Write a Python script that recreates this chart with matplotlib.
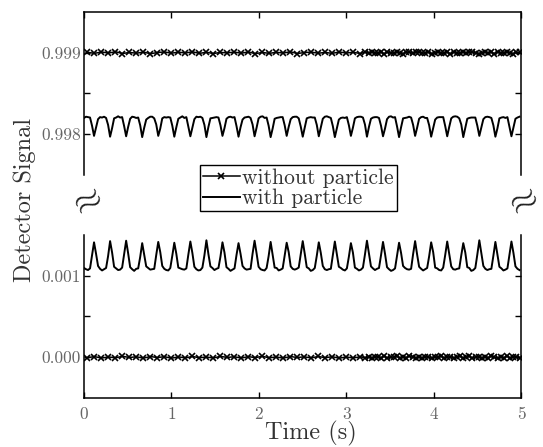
import matplotlib.pyplot as plt
import numpy as np

plt.rcParams['font.family'] = 'cmr10'
plt.rcParams['mathtext.fontset'] = 'cm'
plt.rcParams['axes.formatter.use_mathtext'] = True

# --- data (signal values in units of 1e-6) ---
# "with particle" traces, sampled every 0.02296 s (8 samples per modulation period)
dt_with = 0.02296
with_low = [
    1095, 1080, 1070, 1090, 1250, 1410, 1270, 1120,
    1085, 1065, 1080, 1095, 1240, 1425, 1285, 1110,
    1090, 1070, 1075, 1100, 1265, 1430, 1275, 1105,
    1080, 1060, 1085, 1090, 1230, 1400, 1260, 1115,
    1095, 1075, 1080, 1085, 1255, 1415, 1290, 1120,
    1085, 1070, 1065, 1095, 1245, 1405, 1270, 1100,
    1090, 1080, 1075, 1090, 1260, 1420, 1280, 1110,
    1080, 1065, 1070, 1100, 1250, 1435, 1265, 1115,
    1095, 1070, 1085, 1095, 1235, 1410, 1285, 1105,
    1085, 1060, 1075, 1090, 1255, 1400, 1270, 1120,
    1090, 1075, 1080, 1085, 1270, 1430, 1275, 1110,
    1080, 1070, 1065, 1095, 1240, 1415, 1260, 1100,
    1095, 1065, 1075, 1090, 1250, 1405, 1290, 1115,
    1085, 1075, 1085, 1100, 1265, 1425, 1270, 1105,
    1090, 1060, 1070, 1095, 1245, 1410, 1280, 1120,
    1080, 1070, 1080, 1085, 1255, 1420, 1265, 1110,
    1095, 1075, 1065, 1090, 1235, 1400, 1285, 1100,
    1085, 1065, 1075, 1100, 1260, 1430, 1275, 1115,
    1090, 1070, 1085, 1095, 1250, 1415, 1270, 1105,
    1080, 1060, 1070, 1090, 1245, 1405, 1280, 1120,
    1095, 1080, 1075, 1085, 1265, 1425, 1260, 1110,
    1085, 1065, 1080, 1095, 1240, 1410, 1290, 1100,
    1090, 1070, 1065, 1100, 1255, 1420, 1270, 1115,
    1080, 1075, 1085, 1090, 1250, 1400, 1285, 1105,
    1095, 1060, 1070, 1095, 1260, 1435, 1275, 1120,
    1085, 1070, 1080, 1085, 1245, 1415, 1265, 1110,
    1090, 1065, 1075, 1090, 1255, 1420, 1280, 1115,
    1085, 1070,
]
# offset from 0.998
with_high = [
    200, 215, 210, 205, 105, -20, 85, 185,
    210, 205, 215, 200, 115, -30, 75, 195,
    205, 220, 205, 210, 100, -25, 90, 190,
    215, 210, 200, 205, 110, -35, 80, 180,
    200, 215, 215, 195, 120, -20, 70, 195,
    210, 205, 210, 205, 105, -30, 85, 190,
    205, 220, 200, 210, 95, -25, 80, 185,
    215, 210, 215, 200, 115, -35, 90, 195,
    200, 205, 210, 205, 110, -20, 75, 190,
    210, 215, 205, 210, 100, -30, 85, 180,
    205, 210, 215, 200, 120, -25, 80, 195,
    215, 220, 200, 205, 105, -35, 70, 190,
    200, 205, 210, 210, 110, -20, 90, 185,
    210, 215, 215, 195, 95, -30, 80, 195,
    205, 210, 205, 205, 115, -25, 85, 190,
    215, 220, 210, 200, 100, -35, 75, 180,
    200, 205, 200, 210, 110, -20, 80, 195,
    210, 215, 215, 205, 120, -30, 90, 190,
    205, 210, 210, 200, 105, -25, 70, 185,
    215, 220, 205, 210, 95, -35, 85, 195,
    200, 205, 215, 205, 115, -20, 80, 190,
    210, 215, 200, 200, 110, -30, 75, 180,
    205, 210, 210, 210, 100, -25, 90, 195,
    215, 220, 215, 195, 120, -35, 80, 190,
    200, 205, 205, 205, 105, -20, 85, 185,
    210, 215, 210, 200, 110, -30, 70, 195,
    205, 210, 200, 210, 95, -25, 80, 190,
    205, 215,
]

# "without particle" traces: sparse samples up to ~3.2 s, denser afterwards
t_without = np.concatenate([0.04 + 0.08 * np.arange(40), 3.22 + 0.036 * np.arange(50)])
# offset from 0.999
without_high = [
    6, -8, 10, -4, 12, -10, 4, -6, 8, -12, 2, 10, -6, 8, -4, 12, -8, 6, -10, 4,
    -2, 8, -6, 10, -12, 4, -8, 6, -4, 12, -10, 2, 8, -6, 4, -8, 10, -4, 6, -10,
    8, -3, 11, 2, -9, 5, -12, 7, 1, -6, 10, -2, -11, 4, 9, -7, 3, 12, -5, -1,
    6, -10, 2, 11, -8, -3, 7, -12, 5, 0, -9, 10, -4, 3, 12, -6, -11, 1, 8, -2,
    5, -10, 9, -7, 2, 11, -5, -12, 6, 3,
]
without_low = [
    -5, 8, -10, 4, -7, 12, -3, 6, -11, 9, -4, 7, -12, 5, -8, 10, -6, 3, -9, 11,
    -2, 6, -10, 8, -5, 12, -7, 4, -11, 9, -3, 5, -8, 10, -6, 7, -12, 4, -9, 6,
    -7, 4, -12, 9, 1, -5, 11, -9, 3, -2, 10, -11, 6, -4, 12, 0, -8, 5, -10, 7,
    2, -12, 9, -3, 11, -6, -1, 8, -10, 4, 12, -7, -3, 10, -9, 1, 6, -12, 8, -4,
    11, -2, -9, 5, -6, 12, -11, 3, 7, -5,
]

t_with = dt_with * np.arange(len(with_low))
y_with_low = 1e-6 * np.array(with_low)
y_with_high = 0.998 + 1e-6 * np.array(with_high)
y_without_low = 1e-6 * np.array(without_low)
y_without_high = 0.999 + 1e-6 * np.array(without_high)

tick_color = '#666666'
label_color = '#333333'

fig = plt.figure(figsize=(5.43, 4.47), dpi=100)
ax_top = fig.add_axes([0.1547, 0.6085, 0.8048, 0.3647])
ax_bot = fig.add_axes([0.1547, 0.1096, 0.8048, 0.3647])

line_kw = dict(color='black', linewidth=1.4)
mark_kw = dict(color='black', linewidth=1.1, marker='x', markersize=4.5, markeredgewidth=1.2)

h1, = ax_top.plot(t_without, y_without_high, **mark_kw)
h2, = ax_top.plot(t_with, y_with_high, **line_kw)
ax_bot.plot(t_without, y_without_low, **mark_kw)
ax_bot.plot(t_with, y_with_low, **line_kw)

ax_top.set_ylim(0.9975, 0.9995)
ax_bot.set_ylim(-0.0005, 0.0015)
for ax in (ax_top, ax_bot):
    ax.set_xlim(0, 5)
    for s in ax.spines.values():
        s.set_linewidth(1.1)
    ax.tick_params(direction='in', length=4, width=1, labelsize=12.5,
                   labelcolor=tick_color, left=True, right=True)

ax_top.spines['bottom'].set_visible(False)
ax_bot.spines['top'].set_visible(False)

ax_top.set_xticks(range(6))
ax_top.tick_params(axis='x', bottom=False, top=True, labelbottom=False)
ax_top.set_yticks([0.998, 0.9985, 0.999])
ax_top.set_yticklabels(['0.998', '', '0.999'])

ax_bot.set_xticks(range(6))
ax_bot.set_xticklabels([str(i) for i in range(6)])
ax_bot.tick_params(axis='x', top=False, pad=6)
ax_bot.set_yticks([0.0, 0.0005, 0.001])
ax_bot.set_yticklabels(['0.000', '', '0.001'])
for ax in (ax_top, ax_bot):
    ax.tick_params(axis='y', pad=2)

fig.text(0.573, 0.031, 'Time (s)', fontsize=17.5, color=label_color, ha='center', va='center')
fig.text(0.046, 0.553, 'Detector Signal', fontsize=17.5, color=label_color,
         rotation=90, ha='center', va='center')

# axis break marks
for xb in (84 / 543, 520 / 543):
    fig.text(xb, 1 - 202 / 447, r'$\approx$', fontsize=26, rotation=30,
             ha='center', va='center', color='#222222')

leg = fig.legend([h1, h2], ['without particle', 'with particle'], loc='center',
                 bbox_to_anchor=(0.549, 0.579), fontsize=15.5, numpoints=1,
                 frameon=True, fancybox=False, framealpha=1, edgecolor='black',
                 borderpad=0.15, labelspacing=0.05, handlelength=1.7,
                 handletextpad=0.1, borderaxespad=0)
leg.get_frame().set_linewidth(1.0)
for txt in leg.get_texts():
    txt.set_color(label_color)

fig.savefig('out.png', dpi=100)
